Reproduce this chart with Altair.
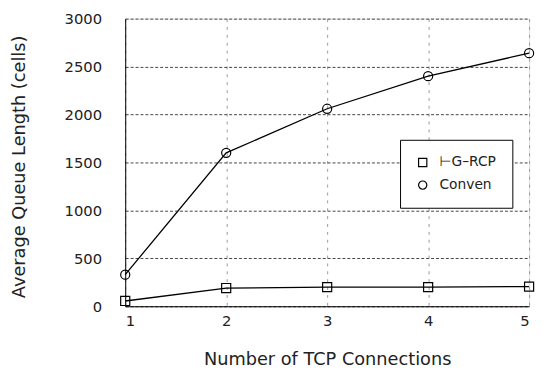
import altair as alt
import pandas as pd

connections = [1, 2, 3, 4, 5]
hg_rcp = [55, 190, 200, 200, 205]
conven = [330, 1600, 2060, 2400, 2640]
series_names = ["⊢G–RCP", "Conven"]

rows = []
for x, v in zip(connections, hg_rcp):
    rows.append({"n": x, "q": v, "s": series_names[0]})
for x, v in zip(connections, conven):
    rows.append({"n": x, "q": v, "s": series_names[1]})
df = pd.DataFrame(rows)

FONT = "DejaVu Sans"
TXT = "#222222"

x_enc = alt.X(
    "n:Q",
    scale=alt.Scale(domain=[1, 5], nice=False, zero=False),
    axis=alt.Axis(
        title="Number of TCP Connections",
        values=[1, 2, 3, 4, 5],
        format="d",
        ticks=False,
        labelPadding=8,
        labelFontSize=15,
        labelFont=FONT,
        labelColor=TXT,
        titleFontSize=18,
        titleFont=FONT,
        titleFontWeight="normal",
        titleColor=TXT,
        titleY=54,
        titleBaseline="middle",
        domainColor="black",
        grid=True,
        gridDash=[3, 5],
        gridColor="#999999",
        gridWidth=1,
    ),
)
y_enc = alt.Y(
    "q:Q",
    scale=alt.Scale(domain=[0, 3000], nice=False),
    axis=alt.Axis(
        title="Average Queue Length (cells)",
        values=[0, 500, 1000, 1500, 2000, 2500, 3000],
        format="d",
        ticks=False,
        labelPadding=24,
        labelFontSize=15,
        labelFont=FONT,
        labelColor=TXT,
        titleFontSize=18,
        titleFont=FONT,
        titleFontWeight="normal",
        titleColor=TXT,
        titleX=-107,
        titleY=150,
        titleAngle=-90,
        titleAlign="center",
        titleBaseline="middle",
        domainColor="black",
        grid=True,
        gridDash=[3, 2],
        gridColor="#444444",
        gridWidth=1,
    ),
)

lines = alt.Chart(df).mark_line(color="black", strokeWidth=1.3).encode(
    x=x_enc, y=y_enc, detail="s:N"
)
points = alt.Chart(df).mark_point(filled=False, color="black", strokeWidth=1.2, size=85, opacity=1).encode(
    x="n:Q",
    y="q:Q",
    shape=alt.Shape(
        "s:N",
        scale=alt.Scale(domain=series_names, range=["square", "circle"]),
        legend=alt.Legend(
            title=None,
            orient="none",
            legendX=279,
            legendY=123,
            padding=16,
            strokeColor="black",
            fillColor="white",
            labelFont=FONT,
            labelFontSize=14,
            labelColor=TXT,
            labelOffset=10,
            rowPadding=9,
            symbolSize=70,
            symbolStrokeColor="black",
            symbolStrokeWidth=1.2,
            symbolFillColor="white",
        ),
    ),
)

chart = (
    alt.layer(lines, points)
    .properties(
        width=410,
        height=292,
        autosize=alt.AutoSizeParams(type="none"),
        padding={"left": 119, "top": 8, "right": 6, "bottom": 68},
    )
    .configure_view(stroke="black", strokeWidth=1)
    .configure(background="white")
)

chart.save("out.html", embed_options={"renderer": "svg", "actions": False})
